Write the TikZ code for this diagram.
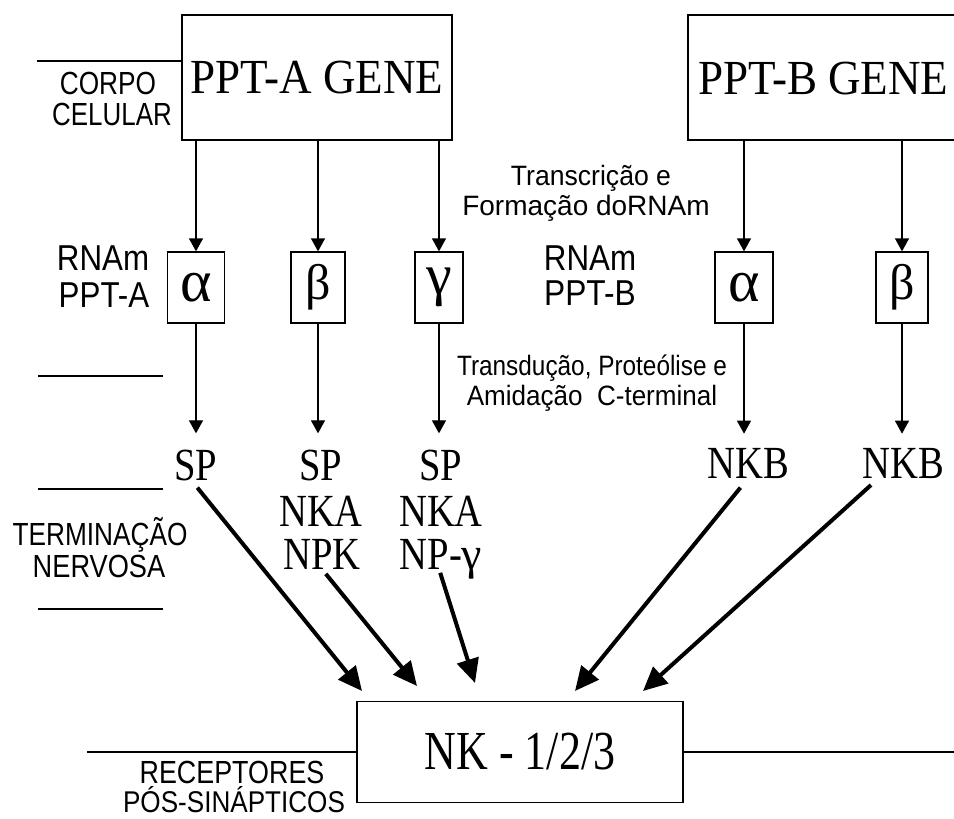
\documentclass[tikz,border=0pt]{standalone}
\usepackage{fontspec}
\setmainfont{Liberation Serif}
\newfontfamily\ars{Liberation Sans}
\usetikzlibrary{arrows.meta,calc}
\newcommand{\sx}[2]{\scalebox{#1}[1]{#2}}
\newcommand{\fs}[1]{\fontsize{#1}{#1}\selectfont}
\begin{document}
\begin{tikzpicture}[x=1pt,y=-1pt,
  lbl/.style={inner sep=0pt, anchor=base},
  sep/.style={line width=1.1pt},
  bigbox/.style={draw, line width=1.8pt, inner sep=0pt},
  rbox/.style={draw, line width=1.3pt, inner sep=0pt, minimum height=71pt},
  thinarr/.style={line width=1.3pt, -{Triangle[length=13pt,width=14pt]}},
  thickarr/.style={line width=4pt, -{Triangle[length=24pt,width=22pt]}},
]
\useasboundingbox (0,0) rectangle (954,819);
\clip (0,0) rectangle (954,819);

% gene boxes
\node[bigbox, minimum width=270pt, minimum height=125pt] (geneA) at (317,77.5) {\fs{49}\sx{0.92}{PPT-A GENE}};
\node[bigbox, minimum width=330pt, minimum height=125pt, anchor=west] (geneB) at (687,77.5) {};
\node[lbl] (geneBtxt) at (823.5,94) {\fs{49}\sx{0.92}{PPT-B GENE}};

% RNA boxes
\node[rbox, minimum width=57pt] (aA) at (196,287.5) {\fs{60}α};
\node[rbox, minimum width=54pt] (bA) at (318,287.5) {\fs{50}β};
\node[rbox, minimum width=48pt] (gA) at (439,287.5) {\fs{58}γ};
\node[rbox, minimum width=58pt] (aB) at (744,287.5) {\fs{60}α};
\node[rbox, minimum width=52pt] (bB) at (902,287.5) {\fs{50}β};

% products
\node[lbl] (spA)  at (196,480) {\fs{46}\sx{0.84}{SP}};
\node[lbl] (spB)  at (321,480) {\fs{46}\sx{0.84}{SP}};
\node[lbl] (nkaB) at (321,526) {\fs{46}\sx{0.84}{NKA}};
\node[lbl] (npkB) at (322,569) {\fs{46}\sx{0.84}{NPK}};
\node[lbl] (spC)  at (441,480) {\fs{46}\sx{0.84}{SP}};
\node[lbl] (nkaC) at (441,526) {\fs{46}\sx{0.84}{NKA}};
\node[lbl] (npgC) at (441,569) {\fs{46}\sx{0.84}{NP-}γ};
\node[lbl] (nkbA) at (748,478) {\fs{46}\sx{0.84}{NKB}};
\node[lbl] (nkbB) at (903,478) {\fs{46}\sx{0.84}{NKB}};

% receptor box
\node[bigbox, minimum width=326pt, minimum height=101pt] (nk) at (520,752) {\fs{55}\sx{0.8}{NK - 1/2/3}};

% side labels
\node[lbl] (corpo)   at (108,94)  {\ars\fs{32}\sx{0.82}{CORPO}};
\node[lbl] (celular) at (112,125) {\ars\fs{32}\sx{0.81}{CELULAR}};
\node[lbl] (rnamA)   at (103,270) {\ars\fs{36}\sx{0.87}{RNAm}};
\node[lbl] (pptA)    at (104,307) {\ars\fs{36}\sx{0.87}{PPT-A}};
\node[lbl] (rnamB)   at (590,270) {\ars\fs{36}\sx{0.87}{RNAm}};
\node[lbl] (pptB)    at (590,305) {\ars\fs{36}\sx{0.88}{PPT-B}};
\node[lbl] (transc)  at (591,185) {\ars\fs{28}\sx{0.95}{Transcrição e}};
\node[lbl] (formac)  at (586,215) {\ars\fs{28}\sx{1.0}{Formação doRNAm}};
\node[lbl] (transd)  at (592,375) {\ars\fs{28}\sx{0.87}{Transdução, Proteólise e}};
\node[lbl] (amid)    at (592,405) {\ars\fs{28}\sx{0.93}{Amidação\ \ C-terminal}};
\node[lbl] (termin)  at (100,545) {\ars\fs{32}\sx{0.82}{TERMINAÇÃO}};
\node[lbl] (nervosa) at (99,577)  {\ars\fs{32}\sx{0.85}{NERVOSA}};
\node[lbl] (recep)   at (232,783) {\ars\fs{32}\sx{0.84}{RECEPTORES}};
\node[lbl] (pos)     at (234,812) {\ars\fs{30}\sx{0.87}{PÓS-SINÁPTICOS}};

% separator lines
\draw[sep] (37,61) -- (geneA.west |- 0,61);
\draw[sep] (38,376) -- (163,376);
\draw[sep] (38,489) -- (163,489);
\draw[sep] (38,609) -- (163,609);
\draw[sep] (87,752) -- (nk.west);
\draw[sep] (nk.east) -- (954,752);

% thin arrows: genes to RNA
\draw[thinarr] (geneA.south -| aA.north) -- (aA.north);
\draw[thinarr] (geneA.south -| bA.north) -- (bA.north);
\draw[thinarr] (geneA.south -| gA.north) -- (gA.north);
\draw[thinarr] (geneB.south -| aB.north) -- (aB.north);
\draw[thinarr] (geneB.south -| bB.north) -- (bB.north);

% thin arrows: RNA to products
\draw[thinarr, shorten >=16pt] (aA.south) -- (aA.south |- spA.north);
\draw[thinarr, shorten >=16pt] (bA.south) -- (bA.south |- spB.north);
\draw[thinarr, shorten >=16pt] (gA.south) -- (gA.south |- spC.north);
\draw[thinarr, shorten >=14pt] (aB.south) -- (aB.south |- nkbA.north);
\draw[thinarr, shorten >=14pt] (bB.south) -- (bB.south |- nkbB.north);

% thick arrows to receptor
\coordinate (t1) at (362,691);
\coordinate (t2) at (417,686);
\coordinate (t3) at (475,683);
\coordinate (t4) at (575,691);
\coordinate (t5) at (643,691);
\draw[thickarr, shorten <=9pt] ($(spA.south west)!0.4!(spA.south east)$) -- (t1);
\draw[thickarr, shorten <=6pt] (npkB.south) -- (t2);
\draw[thickarr, shorten <=4pt] ($(npgC.base)+(-2,0)$) -- (t3);
\draw[thickarr, shorten <=12pt] (nkbA.south) -- (t4);
\draw[thickarr, shorten <=10pt] ($(nkbB.south west)!0.2!(nkbB.south east)$) -- (t5);
\end{tikzpicture}
\end{document}
